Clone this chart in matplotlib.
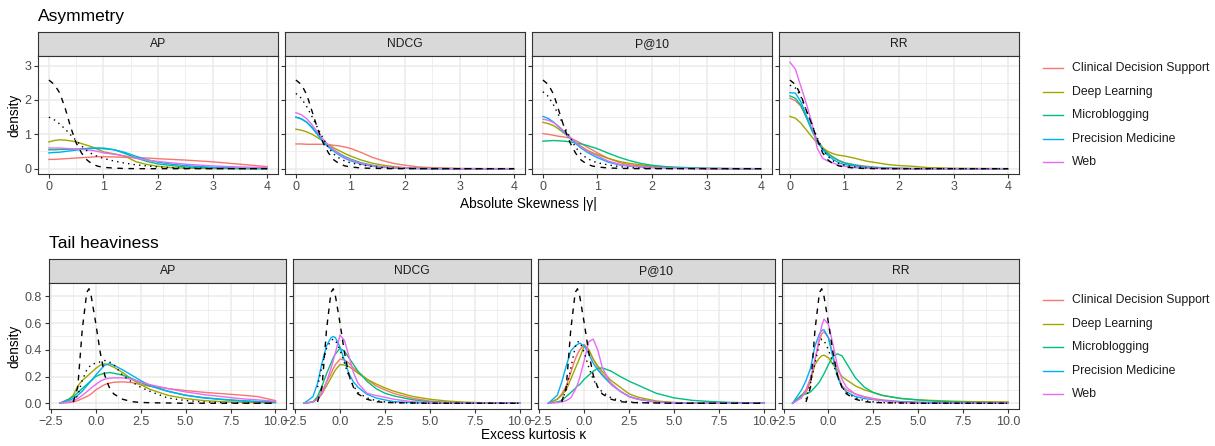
import numpy as np
import matplotlib.pyplot as plt
from matplotlib.lines import Line2D

plt.rcParams['font.family'] = ['Liberation Sans', 'DejaVu Sans']

nan = np.nan

collections = ['Clinical Decision Support', 'Deep Learning', 'Microblogging',
               'Precision Medicine', 'Web']
colors = ['#F8766D', '#A3A500', '#00BF7D', '#00B0F6', '#E76BF3']
measures = ['AP', 'NDCG', 'P@10', 'RR']

# ---- absolute skewness densities (rows: CDS, DL, MB, PM, Web) ----
sk_x = [0, 0.1, 0.2, 0.3, 0.4, 0.5, 0.6, 0.7, 0.8, 0.9, 1.0, 1.2, 1.4, 1.6, 1.8, 2.0, 2.25, 2.5, 3.0, 3.5, 4.0]

sk_AP = [
    [0.27, 0.27, 0.28, 0.29, 0.30, 0.31, 0.32, 0.33, 0.34, 0.35, 0.35, 0.34, 0.33, 0.32, 0.31, 0.29, 0.27, 0.25, 0.20, 0.13, 0.06],
    [0.78, 0.82, 0.84, 0.83, 0.81, 0.78, 0.73, 0.68, 0.63, 0.56, 0.49, 0.43, 0.36, 0.20, 0.12, 0.07, 0.03, 0.015, 0.003, 0, 0],
    [0.55, 0.55, 0.56, 0.56, 0.57, 0.57, 0.58, 0.59, 0.60, 0.60, 0.60, 0.55, 0.44, 0.31, 0.21, 0.14, 0.09, 0.05, 0.02, 0.005, 0],
    [0.46, 0.47, 0.48, 0.50, 0.52, 0.54, 0.56, 0.58, 0.59, 0.59, 0.58, 0.55, 0.47, 0.36, 0.26, 0.19, 0.13, 0.09, 0.04, 0.015, 0.005],
    [0.60, 0.60, 0.60, 0.59, 0.58, 0.57, 0.56, 0.55, 0.53, 0.50, 0.46, 0.42, 0.37, 0.30, 0.25, 0.21, 0.17, 0.13, 0.08, 0.05, 0.03],
]
sk_NDCG = [
    [0.72, 0.72, 0.71, 0.71, 0.71, 0.71, 0.70, 0.68, 0.66, 0.63, 0.59, 0.47, 0.33, 0.23, 0.15, 0.10, 0.05, 0.03, 0.005, 0, 0],
    [1.15, 1.12, 1.07, 1.00, 0.90, 0.80, 0.70, 0.60, 0.52, 0.44, 0.37, 0.25, 0.16, 0.10, 0.06, 0.03, 0.015, 0.005, 0, 0, 0],
    [1.50, 1.45, 1.35, 1.20, 1.00, 0.80, 0.65, 0.54, 0.44, 0.35, 0.28, 0.17, 0.10, 0.05, 0.03, 0.015, 0.005, 0, 0, 0, 0],
    [1.50, 1.45, 1.35, 1.18, 0.98, 0.78, 0.62, 0.50, 0.39, 0.30, 0.23, 0.13, 0.07, 0.04, 0.02, 0.01, 0.005, 0, 0, 0, 0],
    [1.63, 1.57, 1.45, 1.27, 1.05, 0.85, 0.68, 0.54, 0.42, 0.33, 0.26, 0.15, 0.08, 0.05, 0.03, 0.02, 0.01, 0.005, 0, 0, 0],
]
sk_P10 = [
    [1.02, 1.00, 0.97, 0.94, 0.92, 0.89, 0.82, 0.74, 0.64, 0.55, 0.46, 0.30, 0.18, 0.11, 0.08, 0.06, 0.04, 0.02, 0.005, 0, 0],
    [1.35, 1.31, 1.25, 1.14, 1.02, 0.89, 0.76, 0.65, 0.55, 0.47, 0.41, 0.30, 0.21, 0.15, 0.11, 0.07, 0.04, 0.02, 0.005, 0, 0],
    [0.80, 0.81, 0.82, 0.81, 0.80, 0.78, 0.75, 0.72, 0.68, 0.63, 0.58, 0.45, 0.33, 0.23, 0.15, 0.10, 0.06, 0.04, 0.01, 0.003, 0],
    [1.52, 1.46, 1.35, 1.20, 1.04, 0.89, 0.73, 0.60, 0.49, 0.40, 0.32, 0.19, 0.11, 0.07, 0.05, 0.035, 0.02, 0.01, 0.003, 0, 0],
    [1.44, 1.41, 1.34, 1.22, 1.07, 0.92, 0.77, 0.63, 0.52, 0.44, 0.37, 0.22, 0.13, 0.08, 0.05, 0.035, 0.02, 0.01, 0.003, 0, 0],
]
sk_RR = [
    [2.05, 1.98, 1.82, 1.50, 1.15, 0.85, 0.62, 0.45, 0.33, 0.24, 0.17, 0.11, 0.07, 0.04, 0.02, 0.01, 0.005, 0, 0, 0, 0],
    [1.52, 1.47, 1.33, 1.13, 0.93, 0.75, 0.60, 0.50, 0.43, 0.39, 0.37, 0.30, 0.22, 0.17, 0.12, 0.09, 0.07, 0.035, 0.01, 0.003, 0],
    [2.12, 2.05, 1.85, 1.50, 1.12, 0.80, 0.58, 0.43, 0.32, 0.23, 0.17, 0.10, 0.05, 0.03, 0.015, 0.008, 0.003, 0, 0, 0, 0],
    [2.21, 2.20, 1.95, 1.55, 1.15, 0.80, 0.55, 0.38, 0.26, 0.17, 0.12, 0.08, 0.04, 0.02, 0.01, 0.005, 0, 0, 0, 0, 0],
    [3.10, 2.90, 2.40, 1.90, 1.35, 0.60, 0.30, 0.22, 0.16, 0.10, 0.07, 0.03, 0.015, 0.005, 0, 0, 0, 0, 0, 0, 0],
]
# reference distributions (dashed, dotted) per measure
sk_dashed = {
    'AP':   [2.58, 2.45, 2.20, 1.75, 1.20, 0.75, 0.45, 0.25, 0.13, 0.07, 0.04, 0.015, 0.005, 0, 0, 0, 0, 0, 0, 0, 0],
    'NDCG': [2.58, 2.45, 2.15, 1.65, 1.15, 0.75, 0.45, 0.25, 0.14, 0.08, 0.05, 0.02, 0.01, 0.005, 0, 0, 0, 0, 0, 0, 0],
    'P@10': [2.58, 2.45, 2.15, 1.65, 1.15, 0.75, 0.45, 0.25, 0.14, 0.08, 0.05, 0.02, 0.01, 0.005, 0, 0, 0, 0, 0, 0, 0],
    'RR':   [2.58, 2.45, 2.15, 1.70, 1.30, 0.85, 0.46, 0.25, 0.13, 0.08, 0.05, 0.015, 0.005, 0, 0, 0, 0, 0, 0, 0, 0],
}
sk_dotted = {
    'AP':   [1.50, 1.42, 1.30, 1.15, 0.98, 0.82, 0.66, 0.52, 0.42, 0.35, 0.30, 0.22, 0.16, 0.11, 0.08, 0.05, 0.03, 0.015, 0.005, 0, 0],
    'NDCG': [2.19, 2.05, 1.80, 1.50, 1.18, 0.88, 0.60, 0.42, 0.30, 0.22, 0.17, 0.11, 0.06, 0.03, 0.015, 0.008, 0.003, 0, 0, 0, 0],
    'P@10': [2.24, 2.10, 1.84, 1.52, 1.20, 0.90, 0.62, 0.43, 0.31, 0.23, 0.17, 0.11, 0.06, 0.03, 0.015, 0.008, 0.003, 0, 0, 0, 0],
    'RR':   [2.43, 2.35, 2.10, 1.70, 1.30, 0.90, 0.55, 0.35, 0.22, 0.15, 0.10, 0.05, 0.02, 0.01, 0, 0, 0, 0, 0, 0, 0],
}

# ---- excess kurtosis densities (rows: CDS, DL, MB, PM, Web) ----
ku_x = [-2, -1.5, -1.25, -1, -0.75, -0.5, -0.375, -0.25, 0, 0.25, 0.5, 0.75, 1, 1.5, 2, 2.5, 3, 4, 5, 6, 7, 8, 9, 10]

ku_AP = [
    [0, 0.005, 0.01, 0.02, 0.035, 0.05, 0.06, 0.07, 0.10, 0.12, 0.14, 0.15, 0.157, 0.16, 0.155, 0.14, 0.128, 0.11, 0.095, 0.082, 0.072, 0.062, 0.05, 0.02],
    [0, 0.03, 0.06, 0.13, 0.17, 0.20, 0.215, 0.23, 0.26, 0.285, 0.295, 0.285, 0.27, 0.23, 0.18, 0.14, 0.105, 0.06, 0.035, 0.02, 0.012, 0.008, 0.005, 0.003],
    [0, 0.03, 0.05, 0.08, 0.11, 0.14, 0.155, 0.17, 0.20, 0.215, 0.225, 0.23, 0.225, 0.21, 0.185, 0.155, 0.13, 0.09, 0.06, 0.042, 0.03, 0.02, 0.013, 0.008],
    [0, 0.02, 0.035, 0.06, 0.09, 0.13, 0.15, 0.17, 0.21, 0.25, 0.285, 0.297, 0.285, 0.25, 0.21, 0.17, 0.135, 0.09, 0.06, 0.04, 0.028, 0.018, 0.012, 0.008],
    [0, 0.01, 0.02, 0.035, 0.06, 0.085, 0.10, 0.115, 0.14, 0.165, 0.18, 0.188, 0.19, 0.19, 0.18, 0.16, 0.14, 0.11, 0.085, 0.065, 0.05, 0.035, 0.025, 0.015],
]
ku_NDCG = [
    [0, 0.01, 0.04, 0.09, 0.16, 0.22, 0.26, 0.29, 0.33, 0.325, 0.30, 0.265, 0.235, 0.18, 0.13, 0.10, 0.073, 0.038, 0.017, 0.007, 0.003, 0, 0, 0],
    [0, 0.01, 0.03, 0.07, 0.13, 0.19, 0.22, 0.25, 0.29, 0.285, 0.275, 0.25, 0.225, 0.18, 0.145, 0.115, 0.09, 0.052, 0.03, 0.016, 0.008, 0.004, 0.002, 0],
    [0, 0.01, 0.05, 0.13, 0.22, 0.30, 0.34, 0.37, 0.41, 0.39, 0.34, 0.29, 0.24, 0.165, 0.11, 0.075, 0.055, 0.027, 0.01, 0.005, 0.002, 0, 0, 0],
    [0, 0.05, 0.15, 0.30, 0.43, 0.49, 0.50, 0.49, 0.42, 0.32, 0.22, 0.16, 0.12, 0.067, 0.04, 0.025, 0.012, 0.005, 0.002, 0, 0, 0, 0, 0],
    [0, 0.01, 0.03, 0.07, 0.16, 0.26, 0.32, 0.38, 0.51, 0.47, 0.35, 0.23, 0.15, 0.075, 0.058, 0.045, 0.03, 0.012, 0.005, 0.002, 0, 0, 0, 0],
]
ku_P10 = [
    [0, 0.03, 0.07, 0.13, 0.23, 0.33, 0.37, 0.40, 0.44, 0.40, 0.33, 0.27, 0.22, 0.15, 0.09, 0.05, 0.03, 0.01, 0.003, 0, 0, 0, 0, 0],
    [0, 0.03, 0.06, 0.10, 0.18, 0.26, 0.30, 0.34, 0.43, 0.40, 0.33, 0.28, 0.24, 0.17, 0.12, 0.07, 0.045, 0.017, 0.006, 0.002, 0, 0, 0, 0],
    [0, 0.01, 0.02, 0.05, 0.08, 0.11, 0.13, 0.14, 0.18, 0.21, 0.24, 0.26, 0.265, 0.24, 0.20, 0.165, 0.135, 0.075, 0.04, 0.022, 0.013, 0.007, 0.004, 0.003],
    [0, 0.06, 0.16, 0.28, 0.39, 0.43, 0.44, 0.45, 0.43, 0.37, 0.30, 0.25, 0.21, 0.14, 0.09, 0.05, 0.03, 0.008, 0.002, 0, 0, 0, 0, 0],
    [0, 0.005, 0.01, 0.02, 0.04, 0.10, 0.14, 0.19, 0.32, 0.46, 0.48, 0.40, 0.27, 0.14, 0.09, 0.05, 0.03, 0.01, 0.003, 0, 0, 0, 0, 0],
]
ku_RR = [
    [0, 0.05, 0.08, 0.16, 0.33, 0.47, 0.52, 0.535, 0.49, 0.36, 0.22, 0.13, 0.10, 0.07, 0.05, 0.035, 0.025, 0.013, 0.007, 0.005, 0.003, 0, 0, 0],
    [0, 0.06, 0.10, 0.17, 0.29, 0.34, 0.355, 0.36, 0.34, 0.29, 0.25, 0.20, 0.175, 0.13, 0.10, 0.08, 0.06, 0.035, 0.025, 0.02, 0.015, 0.012, 0.011, 0.01],
    [0, 0.06, 0.07, 0.085, 0.12, 0.16, 0.19, 0.22, 0.29, 0.35, 0.37, 0.355, 0.30, 0.19, 0.12, 0.08, 0.058, 0.037, 0.025, 0.015, 0.01, 0.006, 0.004, 0.003],
    [0, 0.10, 0.17, 0.26, 0.43, 0.52, 0.545, 0.55, 0.49, 0.34, 0.20, 0.12, 0.085, 0.05, 0.035, 0.027, 0.02, 0.011, 0.007, 0.005, 0.003, 0.002, 0, 0],
    [0, 0.04, 0.10, 0.19, 0.32, 0.50, 0.58, 0.63, 0.59, 0.44, 0.28, 0.18, 0.12, 0.067, 0.045, 0.03, 0.02, 0.006, 0.002, 0, 0, 0, 0, 0],
]
ku_dashed = [nan, nan, 0.01, 0.12, 0.55, 0.83, 0.857, 0.80, 0.60, 0.38, 0.21, 0.12, 0.07, 0.03, 0.012, 0.006, 0.004, 0.002, 0, 0, 0, 0, 0, 0]
ku_dotted = {
    'AP':   [nan, nan, 0.01, 0.06, 0.17, 0.25, 0.27, 0.29, 0.30, 0.31, 0.32, 0.31, 0.29, 0.21, 0.16, 0.12, 0.09, 0.04, 0.02, 0.01, 0.005, 0.002, 0, 0],
    'NDCG': [nan, nan, 0.12, 0.28, 0.41, 0.47, 0.48, 0.47, 0.40, 0.30, 0.20, 0.13, 0.08, 0.04, 0.02, 0.01, 0.005, 0.002, 0, 0, 0, 0, 0, 0],
    'P@10': [nan, nan, 0.02, 0.10, 0.26, 0.42, 0.46, 0.46, 0.38, 0.27, 0.18, 0.12, 0.085, 0.04, 0.02, 0.01, 0.005, 0.002, 0, 0, 0, 0, 0, 0],
    'RR':   [nan, nan, 0.03, 0.15, 0.30, 0.45, 0.48, 0.47, 0.40, 0.30, 0.20, 0.12, 0.08, 0.04, 0.02, 0.01, 0.005, 0.002, 0, 0, 0, 0, 0, 0],
}

W, H = 1215, 446
fig = plt.figure(figsize=(W / 100, H / 100), dpi=100)


def px_axes(l, t, r, b):
    return fig.add_axes([l / W, 1 - b / H, (r - l) / W, (b - t) / H])


def strip(l, t, r, b, label):
    s = px_axes(l, t, r, b)
    s.set_facecolor('#D9D9D9')
    s.set_xticks([])
    s.set_yticks([])
    for sp in s.spines.values():
        sp.set_color('#333333')
        sp.set_linewidth(0.8)
    s.text(0.5, 0.5, label, ha='center', va='center', fontsize=8.7, color='#1A1A1A',
           transform=s.transAxes)


def style(ax, xmaj, xmin, ymaj, ymin, xlim, ylim, xlabels, ylabels):
    ax.set_xlim(*xlim)
    ax.set_ylim(*ylim)
    ax.set_xticks(xmaj)
    ax.set_xticks(xmin, minor=True)
    ax.set_yticks(ymaj)
    ax.set_yticks(ymin, minor=True)
    ax.set_xticklabels(xlabels)
    if ylabels is None:
        ax.set_yticklabels([])
        ax.tick_params(axis='y', which='major', length=0)
    else:
        ax.set_yticklabels(ylabels)
    ax.grid(which='major', color='#EBEBEB', linewidth=1.1)
    ax.grid(which='minor', color='#EBEBEB', linewidth=0.55)
    ax.set_axisbelow(True)
    ax.tick_params(which='minor', length=0)
    ax.tick_params(which='major', length=2.75, width=0.8, color='#333333', pad=2.2,
                   labelsize=9, labelcolor='#4D4D4D')
    for sp in ax.spines.values():
        sp.set_color('#333333')
        sp.set_linewidth(0.8)


def draw(ax, x, rows, dashed, dotted):
    for vals, c in zip(rows, colors):
        ax.plot(x, vals, color=c, lw=1.0)
    ax.plot(x, dashed, color='black', lw=1.0, ls=(0, (4, 4)))
    ax.plot(x, dotted, color='black', lw=1.0, ls=(0, (1, 3)))


# ---- top row: asymmetry ----
sk_rows = [sk_AP, sk_NDCG, sk_P10, sk_RR]
top_left = [38, 285, 532, 779]
for i, m in enumerate(measures):
    l = top_left[i]
    r = l + 240
    strip(l, 32, r, 56, m)
    ax = px_axes(l, 56, r, 174)
    draw(ax, sk_x, sk_rows[i], sk_dashed[m], sk_dotted[m])
    style(ax, [0, 1, 2, 3, 4], [0.5, 1.5, 2.5, 3.5], [0, 1, 2, 3], [0.5, 1.5, 2.5],
          (-0.2, 4.2), (-0.155, 3.28), ['0', '1', '2', '3', '4'],
          ['0', '1', '2', '3'] if i == 0 else None)

# ---- bottom row: tail heaviness ----
ku_rows = [ku_AP, ku_NDCG, ku_P10, ku_RR]
w2 = 237.25
bot_left = [49, 49 + w2 + 7, 49 + 2 * (w2 + 7), 49 + 3 * (w2 + 7)]
for i, m in enumerate(measures):
    l = bot_left[i]
    r = l + w2
    strip(l, 259, r, 283, m)
    ax = px_axes(l, 283, r, 409)
    draw(ax, ku_x, ku_rows[i], ku_dashed, ku_dotted[m])
    style(ax, [-2.5, 0, 2.5, 5, 7.5, 10], [-1.25, 1.25, 3.75, 6.25, 8.75],
          [0, 0.2, 0.4, 0.6, 0.8], [0.1, 0.3, 0.5, 0.7],
          (-2.6, 10.6), (-0.043, 0.9),
          ['\u22122.5', '0.0', '2.5', '5.0', '7.5', '10.0'],
          ['0.0', '0.2', '0.4', '0.6', '0.8'] if i == 0 else None)

# titles and axis labels
fig.text(38 / W, 1 - 16 / H, 'Asymmetry', fontsize=12.5, va='center', ha='left')
fig.text(49 / W, 1 - 243 / H, 'Tail heaviness', fontsize=12.5, va='center', ha='left')
fig.text(528 / W, 1 - 204 / H, 'Absolute Skewness |\u03b3|', fontsize=9.8, ha='center', va='center')
fig.text(534 / W, 1 - 435 / H, 'Excess kurtosis \u03ba', fontsize=9.8, ha='center', va='center')
fig.text(14 / W, 1 - 115 / H, 'density', fontsize=9.8, rotation=90, ha='center', va='center')
fig.text(14 / W, 1 - 346 / H, 'density', fontsize=9.8, rotation=90, ha='center', va='center')

# legends
for y0 in [68, 300]:
    for k, (name, c) in enumerate(zip(collections, colors)):
        y = 1 - (y0 + k * 23.5) / H
        fig.add_artist(Line2D([1043 / W, 1063 / W], [y, y], transform=fig.transFigure,
                              color=c, lw=1.0))
        fig.text(1072 / W, y, name, fontsize=8.8, va='center', ha='left', color='#1A1A1A')

fig.savefig('out.png', dpi=100)
